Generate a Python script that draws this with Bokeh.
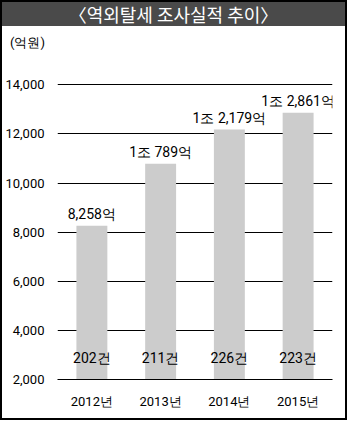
from bokeh.plotting import figure
from bokeh.models import (ColumnDataSource, FactorRange, Range1d, LabelSet, Div,
                          FixedTicker, NumeralTickFormatter)
from bokeh.core.properties import value
from bokeh.layouts import column
from bokeh.embed import file_html
from bokeh.resources import INLINE

# ---- data ----
years = ["2012년", "2013년", "2014년", "2015년"]
amounts = [8258, 10789, 12179, 12861]          # 억원
amount_labels = ["8,258억", "1조 789억", "1조 2,179억", "1조 2,861억"]
cases = [202, 211, 226, 223]                   # 건
case_labels = [f"{c}건" for c in cases]
y_ticks = [2000, 4000, 6000, 8000, 10000, 12000, 14000]
title_text = "〈역외탈세 조사실적 추이〉"
unit_text = "(억원)"

FONT = "Roboto"
HFONT = "Noto Sans CJK KR"
y_start = y_ticks[0]

src = ColumnDataSource(dict(year=years, amount=amounts, alabel=amount_labels,
                            case=cases, clabel=case_labels,
                            base=[y_start] * len(years)))

W = 343
header = Div(
    text=(f'<div style="background:#4a4a4a;color:#ffffff;height:24px;line-height:24px;'
          f'text-align:center;font-family:\'{HFONT}\';font-size:18px;width:{W}px;">{title_text}</div>'
          f'<div style="font-family:{FONT};font-size:13px;color:#000;padding-left:8px;'
          f'margin-top:8px;">{unit_text}</div>'),
    width=W, height=60, margin=0)

p = figure(width=W, height=356, x_range=FactorRange(*years),
           y_range=Range1d(y_start, 14500), output_backend="svg",
           toolbar_location=None, min_border_left=48, min_border_right=13,
           min_border_top=10, min_border_bottom=39, margin=0)
p.outline_line_color = None
p.background_fill_color = "white"
p.border_fill_color = "white"

p.vbar(x="year", top="amount", bottom="base", width=0.45, source=src,
       fill_color="#cccccc", line_color=None)

p.xgrid.grid_line_color = None
p.ygrid.grid_line_color = "black"
p.ygrid.grid_line_width = 1
p.yaxis.ticker = FixedTicker(ticks=y_ticks)
p.yaxis.formatter = NumeralTickFormatter(format="0,0")
for ax in (p.xaxis, p.yaxis):
    ax.axis_line_color = None
    ax.major_tick_line_color = None
    ax.minor_tick_line_color = None
    ax.major_label_text_font = FONT
    ax.major_label_text_font_size = "13px"
    ax.major_label_text_font_style = "normal"
    ax.major_label_text_color = "black"
p.yaxis.major_label_standoff = 7
p.xaxis.major_label_standoff = 8
p.xaxis.axis_line_color = "black"

p.add_layout(LabelSet(x="year", y="amount", text="alabel", source=src,
                      text_align="center", text_baseline="bottom", y_offset=4,
                      text_font=value(FONT), text_font_size=value("14px"),
                      text_color="black"))
p.add_layout(LabelSet(x="year", y="base", text="clabel", source=src,
                      text_align="center", text_baseline="bottom", y_offset=14,
                      text_font=value(FONT), text_font_size=value("14px"),
                      text_color="black"))

layout = column(header, p, spacing=0,
                styles={"border": "2px solid black", "box-sizing": "content-box",
                        "width": f"{W}px"})

open("out.html", "w").write(file_html(layout, INLINE))
